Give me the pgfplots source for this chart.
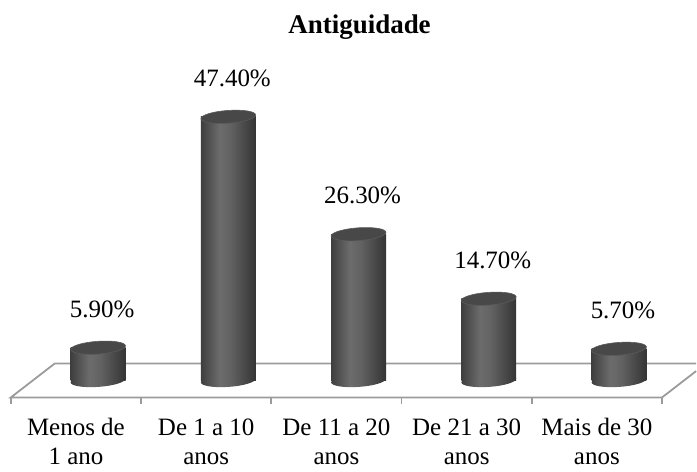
\documentclass[border=0pt]{standalone}
\usepackage{fontspec}
\setmainfont{Liberation Serif}
\usepackage{pgfplots}
\pgfplotsset{compat=1.18}
\usepackage{pgfplotstable}

\definecolor{cylA}{RGB}{62,62,62}
\definecolor{cylB}{RGB}{108,108,108}
\definecolor{cylBB}{RGB}{98,98,98}
\definecolor{cylC}{RGB}{52,52,52}
\definecolor{cyltopc}{RGB}{72,72,72}
\definecolor{cylrim}{RGB}{90,90,90}
\definecolor{floorc}{RGB}{155,155,155}

\pgfdeclarehorizontalshading{cyl}{100bp}{color(0bp)=(cylA); color(25bp)=(cylA); color(42bp)=(cylB); color(52bp)=(cylBB); color(75bp)=(cylC); color(100bp)=(cylC)}

\pgfdeclareplotmark{cylbot}{%
  \pgfpathellipse{\pgfpointorigin}{\pgfqpoint{13.72pt}{0.96pt}}{\pgfqpoint{-0.22pt}{3.19pt}}%
  \pgfshadepath{cyl}{0}\pgfusepath{}}
\pgfdeclareplotmark{cyltop}{%
  \pgfpathellipse{\pgfpointorigin}{\pgfqpoint{13.72pt}{0.96pt}}{\pgfqpoint{-0.22pt}{3.19pt}}%
  \pgfusepath{fill,stroke}}

\pgfplotstableread{
x v b
0.17 5.9 0
1.17 47.4 0
2.17 26.3 0
3.17 14.7 0
4.17 5.7 0
}\datatab

\begin{document}
\begin{tikzpicture}
\begin{axis}[
  scale only axis, width=348.5pt, height=235pt,
  xmin=-0.583, xmax=4.762, ymin=-15.98, ymax=68.4,
  axis line style={draw=none},
  ytick=\empty,
  xtick={0,1,2,3,4},
  xticklabels={{Menos de\\[1.5pt]1 ano},{De 1 a 10\\[1.5pt]anos},{De 11 a 20\\[1.5pt]anos},{De 21 a 30\\[1.5pt]anos},{Mais de 30\\[1.5pt]anos}},
  xticklabel style={align=center, font=\fontsize{12.5}{13}\selectfont, yshift=29pt},
  tick style={draw=none},
  title={\bfseries Antiguidade},
  title style={at={(0.5,1)}, anchor=center, yshift=-19.5pt, xshift=5.75pt, font=\fontsize{13.5}{15}\selectfont},
  /pgf/number format/assume math mode=true,
  clip=false,
]
% floor
\addplot[floorc, line width=0.9pt, mark=none] coordinates {(4.762,1.69) (4.5,-3.05) (-0.5,-3.05) (-0.163,3.05) (4.762,3.05)};
% tick marks on front edge
\addplot[floorc, line width=0.8pt, mark=none, unbounded coords=jump] coordinates {
 (-0.5,-3.05) (-0.5,-4.31) (-0.5,nan)
 (0.5,-3.05) (0.5,-4.31) (0.5,nan)
 (1.5,-3.05) (1.5,-4.31) (1.5,nan)
 (2.5,-3.05) (2.5,-4.31) (2.5,nan)
 (3.5,-3.05) (3.5,-4.31) (3.5,nan)
 (4.5,-3.05) (4.5,-4.31)};
% cylinder bottoms
\addplot[only marks, mark=cylbot] table[x=x, y=b] {\datatab};
% cylinder bodies, one path per bar so that each gets its own shading
\pgfplotsinvokeforeach{0,1,2,3,4}{
  \addplot[ybar, bar width=27.5pt, bar shift=0pt, draw=none, shade, shading=cyl,
    restrict x to domain=#1.1:#1.3] table[x=x, y=v] {\datatab};
}
% cylinder tops with labels
\addplot[only marks, mark=cyltop, mark options={fill=cyltopc, draw=cylrim, line width=0.3pt},
  point meta=y,
  nodes near coords={\pgfmathprintnumber[fixed, fixed zerofill, precision=2]{\pgfplotspointmeta}\%},
  every node near coord/.append style={anchor=center, yshift=19.25pt, xshift=2pt, text=black, font=\fontsize{12.5}{14}\selectfont}]
  table[x=x, y=v] {\datatab};
\end{axis}
\end{tikzpicture}
\end{document}
